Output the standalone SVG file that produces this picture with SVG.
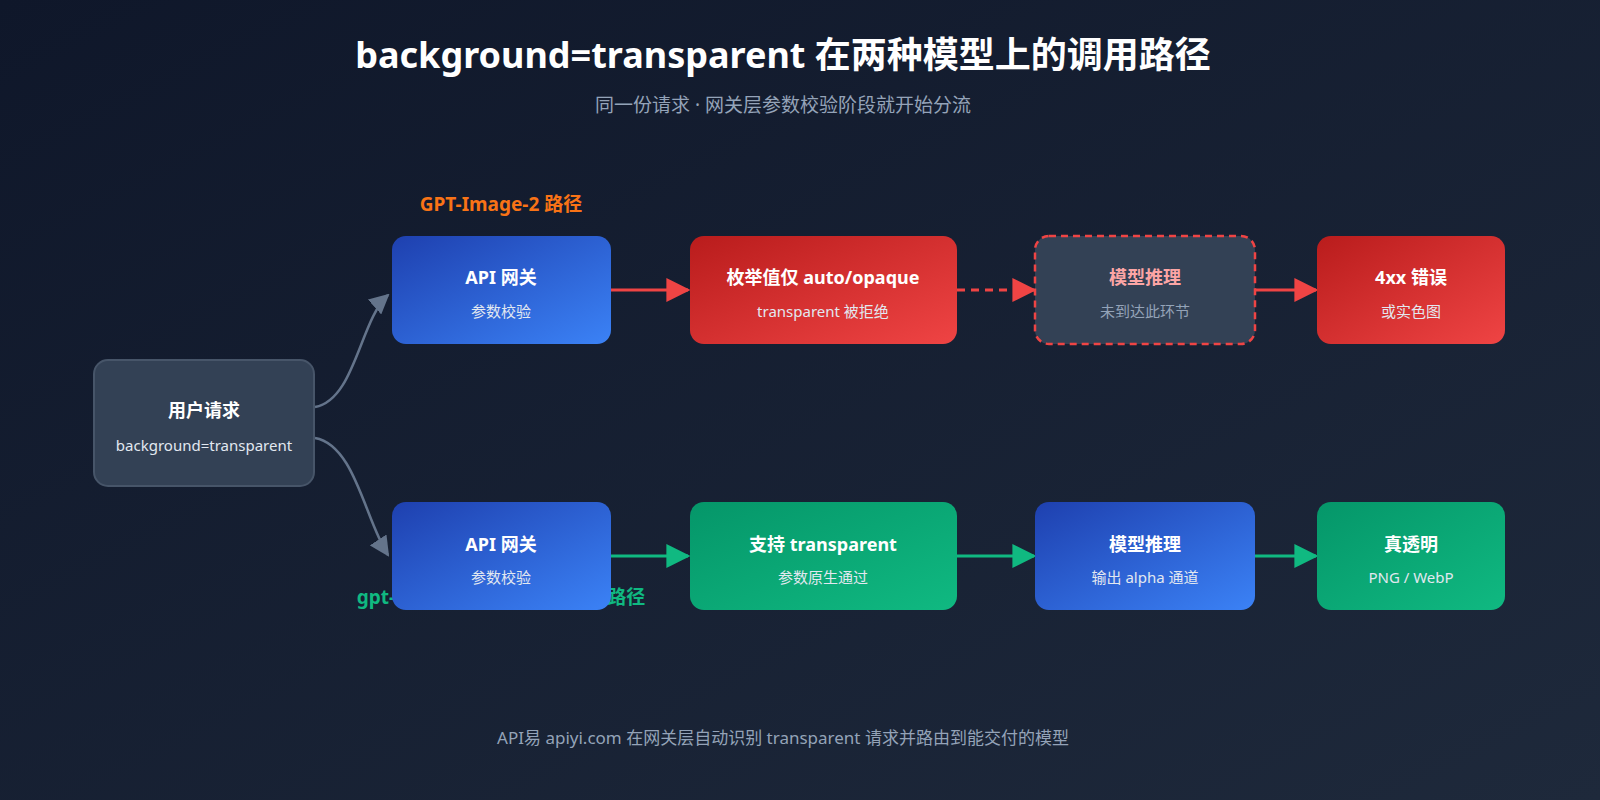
<svg xmlns="http://www.w3.org/2000/svg" width="1600" height="800" viewBox="0 0 1600 800">
<defs>
<linearGradient id="bg" x1="0" y1="0" x2="1" y2="1"><stop offset="0" stop-color="#0f172a"/><stop offset="1" stop-color="#1e293b"/></linearGradient>
<linearGradient id="blue" x1="0" y1="0" x2="1" y2="1"><stop offset="0" stop-color="#1e40af"/><stop offset="1" stop-color="#3b82f6"/></linearGradient>
<linearGradient id="red" x1="0" y1="0" x2="1" y2="1"><stop offset="0" stop-color="#b91c1c"/><stop offset="1" stop-color="#ef4444"/></linearGradient>
<linearGradient id="green" x1="0" y1="0" x2="1" y2="1"><stop offset="0" stop-color="#059669"/><stop offset="1" stop-color="#10b981"/></linearGradient>
<marker id="ar" viewBox="0 0 10 10" refX="9" refY="5" markerWidth="8" markerHeight="8" orient="auto"><path d="M0,0L10,5L0,10z" fill="#ef4444"/></marker>
<marker id="ag" viewBox="0 0 10 10" refX="9" refY="5" markerWidth="8" markerHeight="8" orient="auto"><path d="M0,0L10,5L0,10z" fill="#10b981"/></marker>
<marker id="agr" viewBox="0 0 10 10" refX="9" refY="5" markerWidth="8" markerHeight="8" orient="auto"><path d="M0,0L10,5L0,10z" fill="#64748b"/></marker>
<style>
text{font-family:"Noto Sans","Noto Sans CJK SC",sans-serif;text-anchor:middle}
.t{fill:#fff;font-size:18px;font-weight:bold}
.s{fill:#e2e8f0;font-size:15px}
</style>
</defs>
<rect width="1600" height="800" fill="url(#bg)"/>
<text x="783" y="68" fill="#fff" font-size="36" font-weight="bold">background=transparent 在两种模型上的调用路径</text>
<text x="783" y="112" fill="#94a3b8" font-size="19">同一份请求 · 网关层参数校验阶段就开始分流</text>
<text x="501" y="211" fill="#f97316" font-size="19" font-weight="bold">GPT-Image-2 路径</text>
<text x="501" y="604" fill="#10b981" font-size="19" font-weight="bold">gpt-image-1.5 / gpt-image 路径</text>
<g id="connectors" fill="none" stroke-width="2.5">
<path d="M315,407 C355,400 360,320 388,295" stroke="#64748b" marker-end="url(#agr)"/>
<path d="M315,438 C355,445 365,520 388,555" stroke="#64748b" marker-end="url(#agr)"/>
<path d="M611,290 H688" stroke="#ef4444" stroke-width="3" marker-end="url(#ar)"/>
<path d="M957,290 H1034" stroke="#ef4444" stroke-width="3" stroke-dasharray="8,6" marker-end="url(#ar)"/>
<path d="M1255,290 H1316" stroke="#ef4444" stroke-width="3" marker-end="url(#ar)"/>
<path d="M611,556 H688" stroke="#10b981" stroke-width="3" marker-end="url(#ag)"/>
<path d="M957,556 H1034" stroke="#10b981" stroke-width="3" marker-end="url(#ag)"/>
<path d="M1255,556 H1316" stroke="#10b981" stroke-width="3" marker-end="url(#ag)"/>
</g>
<g id="user"><rect x="94" y="360" width="220" height="126" rx="14" fill="#334155" stroke="#475569" stroke-width="2"/><text class="t" x="204" y="417">用户请求</text><text class="s" x="204" y="451">background=transparent</text></g>
<g id="gw1"><rect x="392" y="236" width="219" height="108" rx="14" fill="url(#blue)"/><text class="t" x="501" y="284">API 网关</text><text class="s" x="501" y="317">参数校验</text></g>
<g id="enum"><rect x="690" y="236" width="267" height="108" rx="14" fill="url(#red)"/><text class="t" x="823" y="284">枚举值仅 auto/opaque</text><text class="s" x="823" y="317">transparent 被拒绝</text></g>
<g id="inf1"><rect x="1035" y="236" width="220" height="108" rx="14" fill="#334155" stroke="#ef4444" stroke-width="2.5" stroke-dasharray="7,5"/><text class="t" x="1145" y="284" style="fill:#fca5a5">模型推理</text><text class="s" x="1145" y="317" style="fill:#94a3b8">未到达此环节</text></g>
<g id="err"><rect x="1317" y="236" width="188" height="108" rx="14" fill="url(#red)"/><text class="t" x="1411" y="284">4xx 错误</text><text class="s" x="1411" y="317">或实色图</text></g>
<g id="gw2"><rect x="392" y="502" width="219" height="108" rx="14" fill="url(#blue)"/><text class="t" x="501" y="551">API 网关</text><text class="s" x="501" y="583">参数校验</text></g>
<g id="support"><rect x="690" y="502" width="267" height="108" rx="14" fill="url(#green)"/><text class="t" x="823" y="551">支持 transparent</text><text class="s" x="823" y="583">参数原生通过</text></g>
<g id="inf2"><rect x="1035" y="502" width="220" height="108" rx="14" fill="url(#blue)"/><text class="t" x="1145" y="551">模型推理</text><text class="s" x="1145" y="583">输出 alpha 通道</text></g>
<g id="ok"><rect x="1317" y="502" width="188" height="108" rx="14" fill="url(#green)"/><text class="t" x="1411" y="551">真透明</text><text class="s" x="1411" y="583">PNG / WebP</text></g>
<text x="783" y="744" fill="#94a3b8" font-size="17">API易 apiyi.com 在网关层自动识别 transparent 请求并路由到能交付的模型</text>
</svg>
